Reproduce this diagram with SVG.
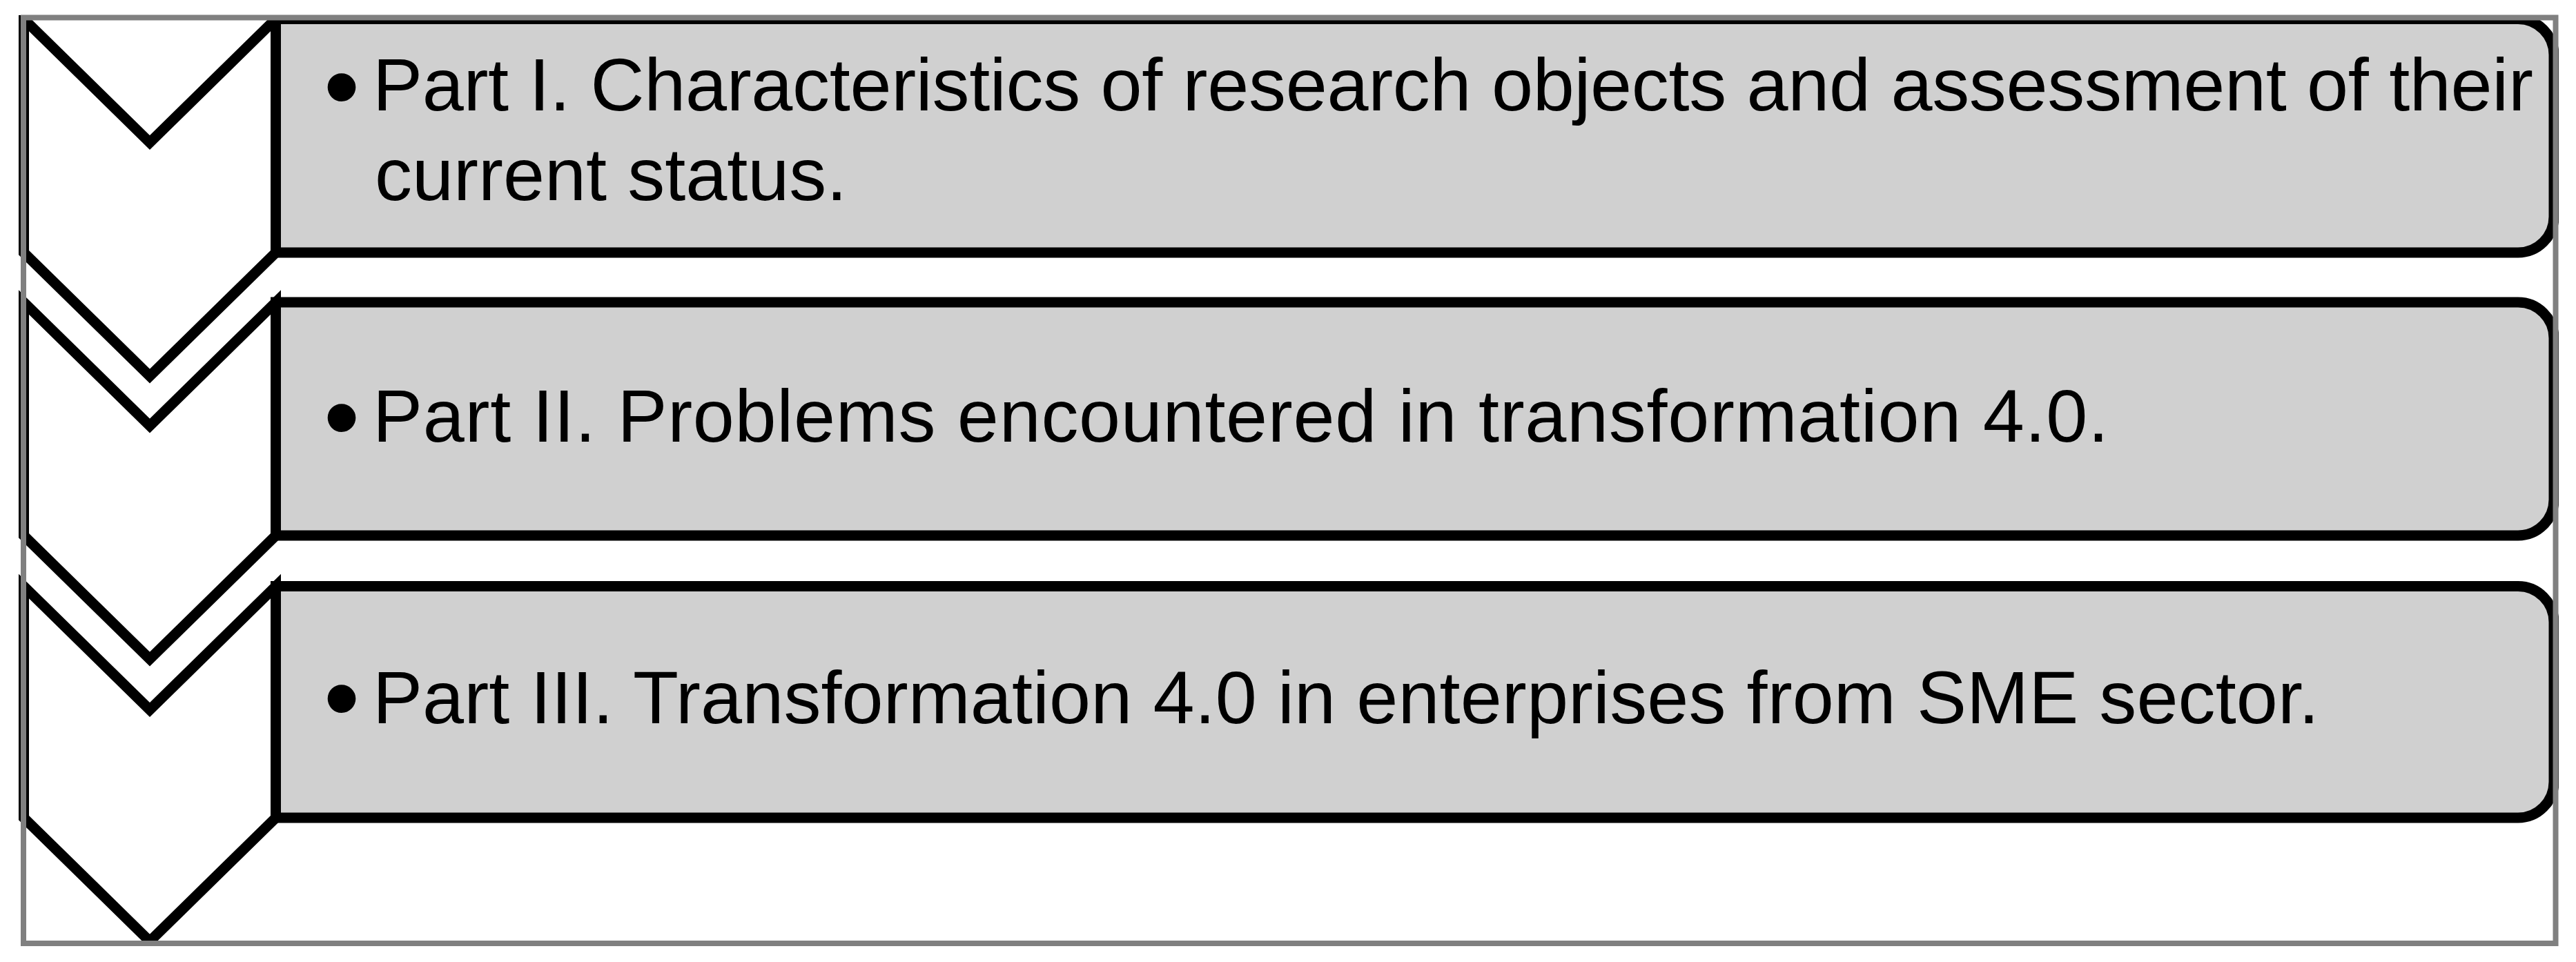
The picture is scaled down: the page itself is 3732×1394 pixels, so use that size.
<svg xmlns="http://www.w3.org/2000/svg" width="3732" height="1394" viewBox="0 0 3732 1394">
  <defs>
    <style>
      .chev { fill: #FFFFFF; stroke: #000000; stroke-width: 15; stroke-linejoin: miter; stroke-miterlimit: 4; }
      .box { fill: #D0D0D0; stroke: #000000; stroke-width: 15; stroke-linejoin: miter; }
      .txt { font-family: "Liberation Sans", Arial, sans-serif; font-size: 108px; fill: #000000; }
      .bul { font-family: "Liberation Sans", Arial, sans-serif; font-size: 150px; fill: #000000; text-anchor: middle; }
      .frame { fill: none; stroke: #808080; stroke-width: 8; }
    </style>
    <clipPath id="inside">
      <rect x="26" y="22" width="3681" height="1349"/>
    </clipPath>
  </defs>
  <rect x="0" y="0" width="3732" height="1394" fill="#FFFFFF"/>
  <g clip-path="url(#inside)">
    <g id="box1">
      <path class="box" d="M399.5,27.5 H3648 A52,52 0 0 1 3700,79.5 V314 A52,52 0 0 1 3648,366 H399.5 Z"/>
      <text class="bul" x="495" y="175.5">•</text>
      <text class="txt" x="540" y="160" textLength="3130" lengthAdjust="spacing">Part I. Characteristics of research objects and assessment of their</text>
      <text class="txt" x="543" y="290">current status.</text>
    </g>
    <g id="box2">
      <path class="box" d="M399.5,438 H3648 A52,52 0 0 1 3700,490 V724 A52,52 0 0 1 3648,776 H399.5 Z"/>
      <text class="bul" x="495" y="654.5">•</text>
      <text class="txt" x="540" y="640" textLength="2515" lengthAdjust="spacing">Part II. Problems encountered in transformation 4.0.</text>
    </g>
    <g id="box3">
      <path class="box" d="M399.5,849.5 H3648 A52,52 0 0 1 3700,901.5 V1133 A52,52 0 0 1 3648,1185 H399.5 Z"/>
      <text class="bul" x="495" y="1062">•</text>
      <text class="txt" x="540" y="1048" textLength="2820" lengthAdjust="spacing">Part III. Transformation 4.0 in enterprises from SME sector.</text>
    </g>
    <g id="chevron1">
      <polygon class="chev" points="34.5,27.5 217,206.5 399.5,27.5 399.5,366 217,545 34.5,366"/>
    </g>
    <g id="chevron2">
      <polygon class="chev" points="34.5,438 217,617 399.5,438 399.5,776 217,955 34.5,776"/>
    </g>
    <g id="chevron3">
      <polygon class="chev" points="34.5,849.5 217,1028.5 399.5,849.5 399.5,1185 217,1364 34.5,1185"/>
    </g>
  </g>
  <g id="connectors"/>
  <g id="frame">
    <rect class="frame" x="34" y="25.5" width="3668.5" height="1341.5"/>
  </g>
</svg>
